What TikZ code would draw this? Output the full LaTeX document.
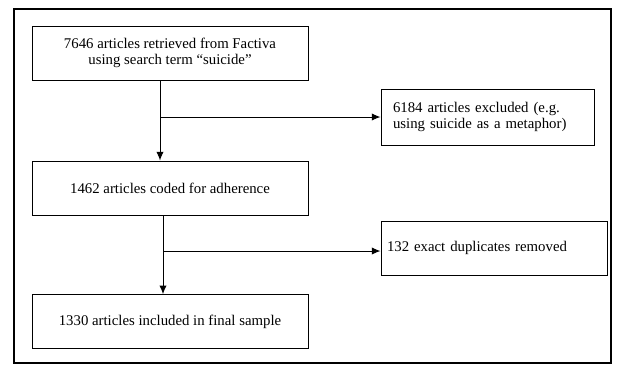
\documentclass[tikz,border=0pt]{standalone}
\usepackage{fontspec}
\setmainfont{Liberation Serif}
\usetikzlibrary{positioning}
\usetikzlibrary{arrows.meta}

\begin{document}
\begin{tikzpicture}[>={Latex[length=6.5pt,width=5.5pt]}, x=0.75pt, y=0.75pt, font=\fontsize{11.1}{12}\selectfont]
    \tikzset{block/.style= {draw, rectangle, align=center, line width=0.75pt, minimum width=207pt, minimum height=40.5pt},}
    \tikzset{sideblock/.style= {draw, rectangle, align=left, line width=0.75pt, minimum height=40.5pt},}

    \useasboundingbox (0,0) rectangle (625,-365);
    \draw[line width=1.1pt] (14,-9) rectangle (611,-363);

    \node [block] (ret) at (170,-53) {7646 articles retrieved from Factiva\\using search term “suicide”};
    \node [block, below =60pt of ret] (cod) {1462 articles coded for adherence};
    \node [block, below =59pt of cod] (fin) {1330 articles included in final sample};

    \node [sideblock, text width=141.75pt, inner xsep=9pt, minimum height=42pt] (exc) at (487.5,-117) {6184 articles excluded (e.g.\\using suicide as a metaphor)};
    \node [sideblock, text width=160.5pt, inner xsep=4.5pt] (dup) at (494,-248) {132 exact duplicates removed};

    \coordinate (a1) at ([xshift=-7.5pt]ret.south);
    \coordinate (a2) at ([xshift=-5.25pt]cod.south);
    \coordinate (y2) at (0,-251);

    \draw[->,line width=0.75pt] (a1) -- (a1 |- cod.north);
    \draw[->,line width=0.75pt] (a1 |- exc.west) -- (exc.west);
    \draw[->,line width=0.75pt] (a2) -- (a2 |- fin.north);
    \draw[->,line width=0.75pt] (a2 |- y2) -- (y2 -| dup.west);
\end{tikzpicture}
\end{document}
